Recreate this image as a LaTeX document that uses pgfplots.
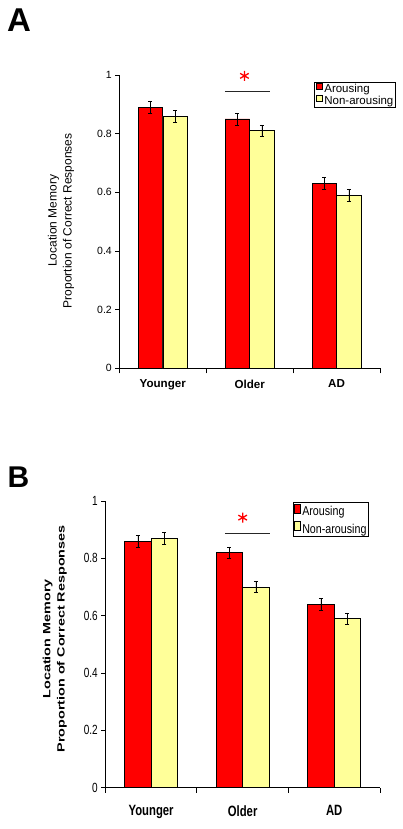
\documentclass[border=0pt]{standalone}
\usepackage{fontspec}
\setmainfont{Liberation Sans}
\usepackage{graphicx}
\usepackage{pgfplots}
\pgfplotsset{compat=1.18}
\definecolor{barred}{RGB}{255,0,0}
\definecolor{baryel}{RGB}{255,255,153}
\pgfplotsset{
  common/.style={
    scale only axis, clip=false,
    axis lines*=left,
    axis line style={black, line width=0.8pt, -},
    xmin=-0.5, xmax=2.5, ymin=0, ymax=1,
    ytick={0,0.2,0.4,0.6,0.8,1},
    xtick={0,1,2},
    minor xtick={-0.5,0.5,1.5,2.5},
    major x tick style={draw=none},
    tick align=outside,
    major tick length=4pt, minor tick length=5pt,
    tick style={black, line width=0.8pt},
    /pgf/number format/assume math mode=true,
    legend cell align=left,
  },
  ebar/.style={error bars/.cd, y dir=both, y explicit,
    error bar style={line width=0.6pt, black},
    error mark options={rotate=90, mark size=2pt, line width=0.6pt, black}},
}
\begin{document}
\begin{tikzpicture}
\path[use as bounding box] (0,0) rectangle (403pt,829pt);
\node[anchor=north west, inner sep=0pt, font=\bfseries\fontsize{33}{33}\selectfont] at (7pt,820.7pt) {A};
\node[anchor=north west, inner sep=0pt, font=\bfseries\fontsize{30}{30}\selectfont] at (7.3pt,362.3pt) {B};
% Panel A
\begin{axis}[common,
  at={(119.3pt,460.7pt)}, anchor=south west,
  width=260.7pt, height=293.3pt,
  yticklabels={0,0.2,0.4,0.6,0.8,1},
  xticklabels={Younger,Older,AD},
  yticklabel style={font=\fontsize{10.5}{12}\selectfont},
  xticklabel style={font=\bfseries\fontsize{11.6}{13}\selectfont, yshift=-4pt},
  ylabel={Location Memory\\Proportion of Correct Responses},
  ylabel style={align=center, font=\fontsize{12}{15}\selectfont, at={(axis description cs:-0.173,0.503)}, anchor=south, inner sep=0pt},
  legend style={at={(0.747,0.977)}, anchor=north west, draw=black, line width=0.6pt,
    font=\fontsize{11.5}{13}\selectfont, inner sep=1pt, row sep=0pt,
    nodes={inner sep=1pt}},
  legend image code/.code={\path (-0.5pt,0pt) (7pt,0pt); \draw[#1,draw=black,line width=0.5pt] (0pt,-0.5pt) rectangle (6pt,5.5pt);},
]
\addplot[ybar, bar width=24.5pt, bar shift=0pt, fill=barred, draw=black, line width=0.5pt, ebar]
  coordinates {(-0.141,0.89) +- (0,0.02) (0.859,0.85) +- (0,0.02) (1.859,0.63) +- (0,0.02)};
\addlegendentry{Arousing}
\addplot[ybar, bar width=24.5pt, bar shift=0pt, fill=baryel, draw=black, line width=0.5pt, ebar]
  coordinates {(0.141,0.86) +- (0,0.02) (1.141,0.81) +- (0,0.02) (2.141,0.59) +- (0,0.02)};
\addlegendentry{Non-arousing}
\addplot[forget plot, black!85, line width=0.8pt, mark=none] coordinates {(0.715,0.945) (1.232,0.945)};
\addplot[forget plot, only marks, mark=asterisk, mark size=5pt, red, line width=1.3pt] coordinates {(0.94,0.997)};
\end{axis}
% Panel B
\begin{axis}[common,
  at={(105.3pt,41.3pt)}, anchor=south west,
  width=274.7pt, height=286.7pt,
  yticklabels={\scalebox{1}[1.33]{0},\scalebox{1}[1.33]{0.2},\scalebox{1}[1.33]{0.4},\scalebox{1}[1.33]{0.6},\scalebox{1}[1.33]{0.8},\scalebox{1}[1.33]{1}},
  xticklabels={\scalebox{1}[1.32]{Younger},\scalebox{1}[1.32]{Older},\scalebox{1}[1.32]{AD}},
  yticklabel style={font=\fontsize{10}{12}\selectfont},
  xticklabel style={font=\bfseries\fontsize{11.3}{13}\selectfont, yshift=-10pt},
  ylabel={\scalebox{1.37}[1]{Location Memory}\\\scalebox{1.37}[1]{Proportion of Correct Responses}},
  ylabel style={align=center, font=\bfseries\fontsize{10.5}{14.3}\selectfont, at={(axis description cs:-0.139,0.519)}, anchor=south, inner sep=0pt},
  legend style={at={(0.682,0.995)}, anchor=north west, draw=black, line width=0.6pt,
    font=\fontsize{10.7}{13}\selectfont, inner sep=1pt, row sep=3pt,
    nodes={inner sep=1pt}},
  legend image code/.code={\path (-0.5pt,0pt) (6.3pt,0pt); \draw[#1,draw=black,line width=0.5pt] (0pt,-1.5pt) rectangle (5.3pt,7.8pt);},
]
\addplot[ybar, bar width=26.5pt, bar shift=0pt, fill=barred, draw=black, line width=0.5pt, ebar]
  coordinates {(-0.1447,0.86) +- (0,0.02) (0.8553,0.82) +- (0,0.02) (1.8553,0.64) +- (0,0.02)};
\addlegendentry{\scalebox{1}[1.2]{Arousing}}
\addplot[ybar, bar width=26.5pt, bar shift=0pt, fill=baryel, draw=black, line width=0.5pt, ebar]
  coordinates {(0.1447,0.87) +- (0,0.02) (1.1447,0.70) +- (0,0.02) (2.1447,0.59) +- (0,0.02)};
\addlegendentry{\scalebox{1}[1.2]{Non-arousing}}
\addplot[forget plot, black!85, line width=0.8pt, mark=none] coordinates {(0.807,0.886) (1.299,0.886)};
\addplot[forget plot, only marks, mark=asterisk, mark size=5pt, red, line width=1.3pt] coordinates {(1.0,0.942)};
\end{axis}
\end{tikzpicture}
\end{document}
